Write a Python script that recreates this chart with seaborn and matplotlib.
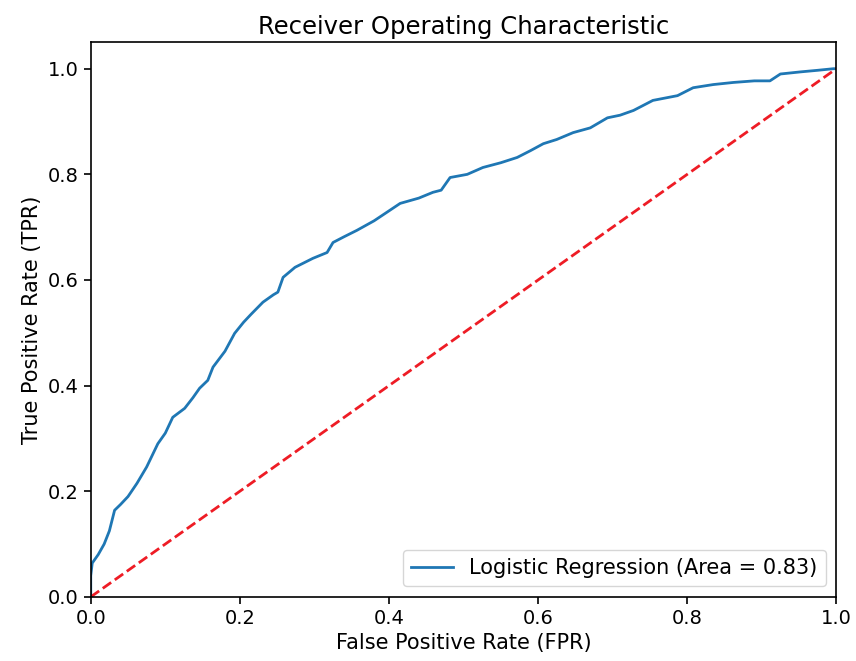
import matplotlib
matplotlib.use("Agg")
import matplotlib.pyplot as plt
import seaborn as sns
import pandas as pd

# ROC curve points for the logistic regression model
fpr = [0.000, 0.000, 0.002, 0.010, 0.018, 0.025, 0.032, 0.040, 0.050, 0.062, 0.075,
       0.090, 0.100, 0.110, 0.126, 0.137, 0.146, 0.157, 0.164, 0.180, 0.193, 0.205,
       0.215, 0.231, 0.245, 0.251, 0.258, 0.274, 0.298, 0.317, 0.325, 0.340, 0.357,
       0.380, 0.397, 0.415, 0.440, 0.459, 0.470, 0.482, 0.505, 0.526, 0.550, 0.572,
       0.590, 0.607, 0.625, 0.647, 0.670, 0.693, 0.710, 0.728, 0.754, 0.787, 0.808,
       0.835, 0.862, 0.890, 0.911, 0.925, 0.952, 0.975, 0.996, 1.000]
tpr = [0.000, 0.040, 0.064, 0.080, 0.100, 0.125, 0.164, 0.175, 0.190, 0.215, 0.246,
       0.290, 0.310, 0.340, 0.357, 0.377, 0.395, 0.410, 0.435, 0.465, 0.499, 0.520,
       0.535, 0.558, 0.572, 0.577, 0.605, 0.624, 0.641, 0.652, 0.671, 0.682, 0.694,
       0.712, 0.728, 0.745, 0.755, 0.766, 0.770, 0.794, 0.800, 0.813, 0.822, 0.832,
       0.845, 0.858, 0.866, 0.879, 0.888, 0.907, 0.912, 0.921, 0.940, 0.949, 0.964,
       0.970, 0.974, 0.977, 0.977, 0.990, 0.994, 0.997, 1.000, 1.000]
auc_value = 0.83

roc = pd.DataFrame({"fpr": fpr, "tpr": tpr})
chance = pd.DataFrame({"fpr": [0.0, 1.0], "tpr": [0.0, 1.0]})

fig, ax = plt.subplots(figsize=(8.56, 6.61), dpi=100)
fig.subplots_adjust(left=0.106, right=0.977, top=0.936, bottom=0.097)

sns.lineplot(data=roc, x="fpr", y="tpr", sort=False, estimator=None, ax=ax,
             color="#1f77b4", linewidth=2.0,
             label=f"Logistic Regression (Area = {auc_value:.2f})")
sns.lineplot(data=chance, x="fpr", y="tpr", sort=False, estimator=None, ax=ax,
             color="#ee1c25", linestyle="--", linewidth=2.0)

ax.set_xlim(0.0, 1.0)
ax.set_ylim(0.0, 1.05)
ax.set_xlabel("False Positive Rate (FPR)", fontsize=15)
ax.set_ylabel("True Positive Rate (TPR)", fontsize=15)
ax.set_title("Receiver Operating Characteristic", fontsize=17.5)
ax.tick_params(labelsize=14, width=1.2, length=5)
for spine in ax.spines.values():
    spine.set_linewidth(1.2)
ax.legend(loc="lower right", fontsize=15)

fig.savefig("out.png", dpi=100)
